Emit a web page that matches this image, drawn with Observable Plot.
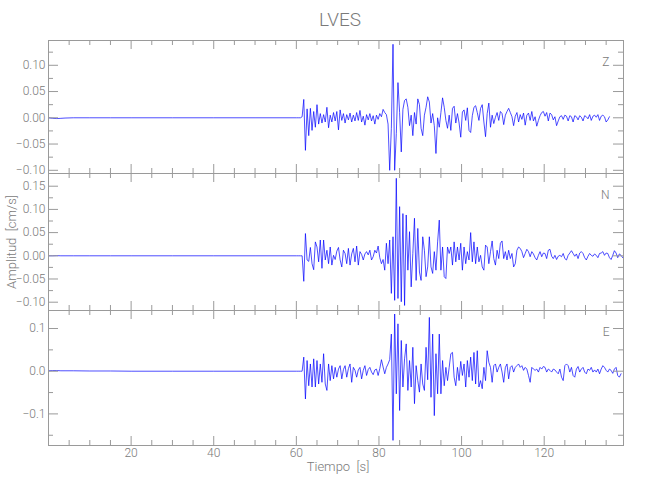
<!DOCTYPE html>
<html>
<head>
<meta charset="utf-8">
<script src="https://cdn.jsdelivr.net/npm/d3@7"></script>
<script src="https://cdn.jsdelivr.net/npm/@observablehq/plot@0.6"></script>
<style>
  body { margin: 0; background: #fff; }
  #wrap { position: relative; width: 650px; height: 500px; background: #fff;
          font-family: Roboto, "DejaVu Sans", sans-serif; font-weight: 300;
          color: #7a7a7a; overflow: hidden; }
  .abs { position: absolute; }
  #title { left: 290px; width: 100px; top: 10px; text-align: center; font-size: 19px; line-height: 19px; }
  #ylab { left: -88px; width: 200px; top: 234px; text-align: center; font-size: 13px; line-height: 16px; transform: rotate(-90deg); white-space: pre; }
  #xlab { left: 238px; width: 200px; top: 459px; text-align: center; font-size: 13px; line-height: 16px; white-space: pre; }
</style>
</head>
<body>
<div id="wrap">
  <div id="title" class="abs">LVES</div>
  <div id="ylab" class="abs">Amplitud  [cm/s]</div>
  <div id="xlab" class="abs">Tiempo  [s]</div>
</div>
<script>
// ---- data (amplitudes in 0.001 cm/s) ----
const stationName = "LVES";
const componentNames = ["Z", "N", "E"];
// quiet pre-event portion: sample times (s) and amplitudes
const preTime = [0, 1, 2, 3, 4, 6, 10, 15, 20, 30, 40, 50, 60, 60.6];
const zPre = [0, -1, -1.5, -1, -0.5, 0, 0, 0, 0, 0, 0, 0, 0, 0];
const nPre = [0, 0, 0.3, 0, 0, 0, 0, 0, 0, 0, 0, 0, 0, 0];
const ePre = [1, 1.5, 1.5, 1, 1, 1, 0.5, 0.5, 0, 0, 0, 0, 0, 0];
// event portion: samples every 0.4 s starting at 61.0 s
const eventStart = 61.0;
const sampleStep = 0.4;
const zVals = [
  0, 2, 35, -62, 17, -34, 18, -24, 12, -18,
  25, -12, 8, -10, 6, -8, 20, -19, 5, -8,
  10, -6, 12, -23, 15, -5, 8, -10, 6, -4,
  9, -8, 5, -6, 10, -5, 14, -8, 3, -14,
  6, -4, 8, -6, 4, -12, 5, -3, 8, 2,
  16, 10, 6, -12, -100, -20, 140, -100, -30, 67,
  10, -65, 16, 33, 36, 20, -15, 5, -34, 10,
  -12, 36, 25, -20, -34, 5, 20, 40, 30, -10,
  8, -15, -68, 0, -18, 10, 38, 20, -5, -20,
  5, -24, 18, 22, -10, 8, -10, -37, 11, 15,
  -5, 19, -24, -28, 4, 20, 23, 10, -5, 18,
  25, -8, -36, 8, 28, -18, 5, -11, 1, 10,
  -5, 12, 8, -13, 5, 12, 18, 10, 2, -15,
  3, 10, -8, 6, -3, 9, -14, 5, 9, -5,
  12, -6, 2, -16, -5, 4, 10, 12, 3, 10,
  -6, 9, 6, -4, 2, -15, -6, 2, 4, -3,
  5, 3, -6, 4, 2, -8, 4, 2, -4, 4,
  1, -6, 4, 2, -2, 6, -5, 3, 5, 1,
  6, -5, 3, 5, 2, -8, -4, 2
];
const nVals = [
  0, 0, -55, 48, -9, -12, 18, -17, -30, 30,
  19, -13, 34, -27, 34, -9, 12, -17, 19, -20,
  1, -8, 10, 18, -9, -24, 12, 5, -17, 16,
  -20, 4, 16, -13, 21, -20, 9, 3, -9, 4,
  9, 2, 12, -9, -2, 12, 6, 21, -4, -17,
  -8, -31, 27, -17, 34, -81, 41, -96, 167, -92,
  106, -99, 91, -107, 88, -31, 52, -67, 5, 81,
  -53, 59, -35, -53, 41, 12, -45, -24, 41, -24,
  -38, 9, -31, 30, 77, -31, 19, -45, -49, 19,
  5, 19, -20, 30, -13, 19, -9, 27, -31, 19,
  -17, 9, -9, 50, -13, 30, -17, 19, -13, 1,
  -24, -31, 23, 19, -17, 9, 32, -6, -20, 12,
  -6, 27, 32, -6, 9, -9, 12, -6, 5, -24,
  -17, 12, 19, 16, 9, -4, 5, 14, 9, -2,
  9, 4, -4, -9, 1, 9, -2, 6, 5, -6,
  12, 14, -1, -6, 1, -8, -1, 1, -2, 5,
  -6, -9, 1, 6, 11, 5, -1, 4, -6, 6,
  9, 5, -4, -9, -1, 5, 1, -1, 4, 1,
  -4, 5, 6, 9, 1, 6, 5, -4, -8, 1,
  11, 6, -4, 4, 1, -4
];
const eVals = [
  0, 0, 33, -65, 25, -34, 17, -37, 29, -37,
  25, -30, 17, -26, 41, -30, -45, 17, -22, 13,
  -18, 9, -14, 5, 13, -18, 4, 13, -14, 6,
  17, -26, 9, 2, -14, 3, 9, -18, 2, 13,
  -10, 4, 9, -2, -8, 3, 5, -10, 6, 27,
  10, -6, 9, 17, 27, 87, -162, 134, -53, 111,
  -92, 72, -37, 29, 64, -45, 25, -37, 56, -76,
  13, -22, -49, 17, -30, -45, 56, -20, 126, -61,
  87, -104, 41, -53, 87, -53, 25, -34, 9, -22,
  9, 41, 44, -14, -34, 9, -22, 23, -10, 17,
  -37, 25, -14, 33, -22, 44, -30, 48, -37, -22,
  -41, 9, -22, 48, 21, 9, -26, 13, 17, -2,
  9, 17, -2, -26, 9, 17, -18, 9, 13, -2,
  9, 13, 17, 9, 13, 2, 9, 5, -10, -26,
  9, 5, 2, 5, -2, 9, 5, 11, 9, -2,
  5, 2, -2, 5, 3, -2, -6, 5, -14, -22,
  13, 17, 13, -2, 9, -10, -14, 5, 11, -2,
  5, 9, -2, -6, 5, 2, 9, -2, 3, -2,
  5, -6, 5, 13, 9, 2, -2, 5, 2, -5,
  5, 9, -10, -14, -6
];
// axes
const xDomain = [0, 139.2];
const xMajor = [20, 40, 60, 80, 100, 120];
const xMinor = [5, 10, 15, 25, 30, 35, 45, 50, 55, 65, 70, 75, 85, 90, 95, 105, 110, 115, 125, 130, 135];
const zDomain = [-0.1061, 0.1472];
const nDomain = [-0.1179, 0.1774];
const eDomain = [-0.174, 0.1422];
const zMajor = [-0.10, -0.05, 0, 0.05, 0.10];
const zMinor = [-0.075, -0.025, 0.025, 0.075, 0.125];
const nMajor = [-0.10, -0.05, 0, 0.05, 0.10, 0.15];
const nMinor = [-0.075, -0.025, 0.025, 0.075, 0.125];
const eMajor = [-0.1, 0, 0.1];
const eMinor = [-0.15, -0.05, 0.05];

// ---- build ----
function trace(pre, vals) {
  const pts = preTime.map((t, i) => ({t, v: pre[i] * 1e-3}));
  vals.forEach((v, i) => pts.push({t: eventStart + i * sampleStep, v: v * 1e-3}));
  return pts;
}

const FONT = 'Roboto, "DejaVu Sans", sans-serif';
const AX = "#9a9a9a";
const W = 650, ML = 48, MR = 27;
const innerW = W - ML - MR;

const panels = [
  {name: componentNames[0], data: trace(zPre, zVals), domain: zDomain, major: zMajor, minor: zMinor, fmt: ".2f", top: 40, h: 133},
  {name: componentNames[1], data: trace(nPre, nVals), domain: nDomain, major: nMajor, minor: nMinor, fmt: ".2f", top: 173, h: 137},
  {name: componentNames[2], data: trace(ePre, eVals), domain: eDomain, major: eMajor, minor: eMinor, fmt: ".1f", top: 310, h: 135}
];

const wrap = document.getElementById("wrap");
panels.forEach((p, idx) => {
  const last = idx === panels.length - 1;
  const mb = last ? 30 : 0;
  const marks = [
    Plot.line(p.data, {x: "t", y: "v", stroke: "#0000ff", strokeWidth: 0.7}),
    Plot.frame({stroke: AX}),
    // x ticks (top & bottom, inward)
    Plot.tickX(xMajor, {x: d => d, insetBottom: p.h - 9, stroke: AX}),
    Plot.tickX(xMinor, {x: d => d, insetBottom: p.h - 5, stroke: AX}),
    Plot.tickX(xMajor, {x: d => d, insetTop: p.h - 9, stroke: AX}),
    Plot.tickX(xMinor, {x: d => d, insetTop: p.h - 5, stroke: AX}),
    // y ticks (left & right, inward)
    Plot.tickY(p.major, {y: d => d, insetRight: innerW - 10, stroke: AX}),
    Plot.tickY(p.minor, {y: d => d, insetRight: innerW - 5, stroke: AX}),
    Plot.tickY(p.major, {y: d => d, insetLeft: innerW - 10, stroke: AX}),
    Plot.tickY(p.minor, {y: d => d, insetLeft: innerW - 5, stroke: AX}),
    Plot.axisY(p.major, {tickSize: 0, tickPadding: 3, tickFormat: d3.format(p.fmt), label: null, fontSize: 12}),
    Plot.text([p.name], {frameAnchor: "top-right", dx: -14, dy: 22, lineAnchor: "middle", textAnchor: "end", text: d => d, fontSize: 12, fill: "#7a7a7a"})
  ];
  if (last) {
    marks.push(Plot.axisX(xMajor, {tickSize: 0, tickPadding: 3, label: null, fontSize: 12}));
  }
  const chart = Plot.plot({
    width: W,
    height: p.h + mb,
    marginLeft: ML,
    marginRight: MR,
    marginTop: 0,
    marginBottom: mb,
    x: {domain: xDomain, axis: last ? undefined : null, label: null},
    y: {domain: p.domain, label: null},
    style: {background: "transparent", fontFamily: FONT, fontWeight: 300, fontSize: "12px", color: "#7a7a7a", overflow: "visible"},
    marks
  });
  chart.style.position = "absolute";
  chart.style.left = "0px";
  chart.style.top = p.top + "px";
  wrap.appendChild(chart);
});
</script>
</body>
</html>
